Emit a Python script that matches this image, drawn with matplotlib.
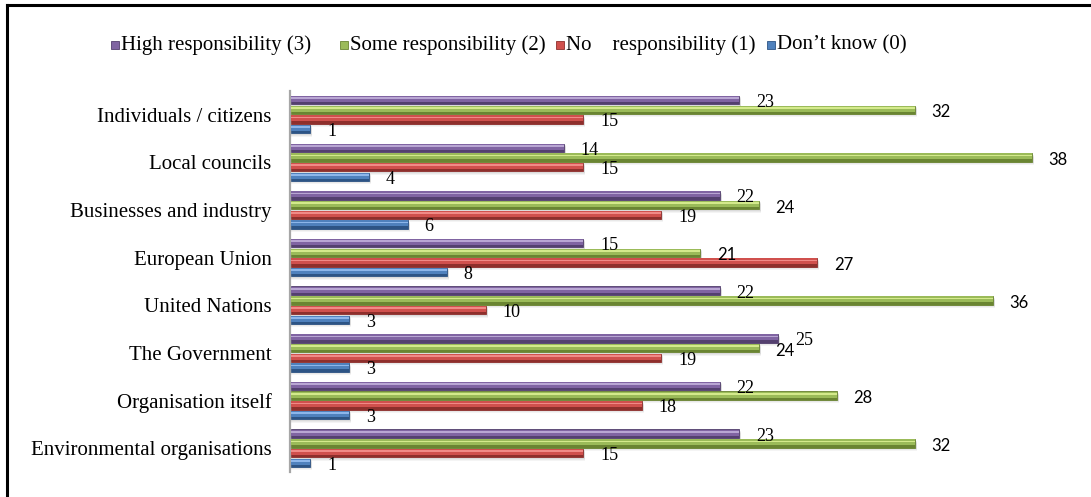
import matplotlib
matplotlib.use("Agg")
import matplotlib.pyplot as plt
from matplotlib.lines import Line2D
from matplotlib.patches import Rectangle

# Who is responsible for environmental action (number of respondents)
categories = ["Individuals / citizens", "Local councils", "Businesses and industry",
              "European Union", "United Nations", "The Government",
              "Organisation itself", "Environmental organisations"]
series_names = ["High responsibility (3)", "Some responsibility (2)",
                "No    responsibility (1)", "Don\u2019t know (0)"]
high = [23, 14, 22, 15, 22, 25, 22, 23]
some = [32, 38, 24, 21, 36, 24, 28, 32]
no_resp = [15, 15, 19, 27, 10, 19, 18, 15]
dont_know = [1, 4, 6, 8, 3, 3, 3, 1]

series_values = [high, some, no_resp, dont_know]
# (highlight, body, shade) colour per series
palette = [("#B9A6D3", "#8064A2", "#54406F"),
           ("#D4EA8C", "#9BBB59", "#6A8532"),
           ("#F08A87", "#D0504D", "#8E2F2C"),
           ("#8DB6EA", "#4F81BD", "#2D5485")]
# value labels set in a sans face (the rest use the serif face)
sans_series = [False, True, False, False]
sans_extra = [(2, "European Union")]

W, H = 1091, 497
fig = plt.figure(figsize=(W / 100, H / 100), dpi=100)
fig.patch.set_facecolor("white")

ax_left, ax_top, ax_bottom = 289.5, 90.7, 472.0
ax = fig.add_axes([ax_left / W, (H - ax_bottom) / H,
                   (W - ax_left) / W, (ax_bottom - ax_top) / H])
px_per_unit = 19.5
x0 = -(290.5 - ax_left) / px_per_unit
ax.set_xlim(x0, x0 + (W - ax_left) / px_per_unit)
ax.set_ylim(len(categories) - 0.5, -0.5)

pitch = 0.203
bar_h = 0.175
px_y = (ax_bottom - ax_top) / len(categories)  # pixels per category unit
serif = "Liberation Serif"

for s, vals in enumerate(series_values):
    light, body, shade = palette[s]
    offs = (s - 1.5) * pitch
    ys = [i + offs for i in range(len(categories))]
    # soft drop shadow
    for k, a in ((3.5, 0.08), (2.5, 0.10), (1.5, 0.12)):
        ax.barh([y + k / px_y for y in ys], [v + 0.12 for v in vals],
                height=bar_h, left=0, color="#7F7F7F", alpha=a, lw=0, zorder=1)
    # shaded body, main body and top highlight
    ax.barh(ys, vals, height=bar_h, color=shade, edgecolor=shade, lw=0.6, zorder=2)
    ax.barh([y - bar_h * 0.12 for y in ys], vals, height=bar_h * 0.70,
            color=body, lw=0, zorder=3)
    ax.barh([y - bar_h * 0.22 for y in ys], vals, height=bar_h * 0.22,
            color=light, lw=0, zorder=4)
    for i, (y, v) in enumerate(zip(ys, vals)):
        use_sans = sans_series[s] or (s, categories[i]) in sans_extra
        if use_sans:
            ax.text(v + 17 / px_per_unit, y + 2.5 / px_y, str(v), ha="left",
                    va="center", fontsize=12, family="Lato", color="black", zorder=5)
        else:
            ax.text(v + 17 / px_per_unit, y + 2.5 / px_y, str(v), ha="left",
                    va="center", fontsize=13, family=serif, color="black", zorder=5)

ax.set_yticks(range(len(categories)))
ax.set_yticklabels(categories, fontsize=15, family=serif)
ax.tick_params(axis="y", length=0, pad=13)
ax.set_xticks([])
for side in ("top", "right", "bottom"):
    ax.spines[side].set_visible(False)
ax.spines["left"].set_color("#A6A6A6")
ax.spines["left"].set_linewidth(1.6)
ax.set_facecolor("none")

# legend row
leg_y = 45
leg_text_x = [121, 350, 566, 777]
for s, name in enumerate(series_names):
    light, body, shade = palette[s]
    tx = leg_text_x[s]
    fig.add_artist(Rectangle(((tx - 10) / W, (H - leg_y - 4) / H), 8 / W, 8 / H,
                             transform=fig.transFigure, facecolor=body,
                             edgecolor=shade, lw=0.6))
    fig.text(tx / W, (H - leg_y) / H, name, ha="left", va="center",
             fontsize=15, family=serif, color="black")

# frame lines along the top and left of the chart
fig.add_artist(Line2D([7 / W, 1.0], [1 - 5 / H, 1 - 5 / H],
                      transform=fig.transFigure, color="black", lw=2.2))
fig.add_artist(Line2D([7 / W, 7 / W], [0.0, 1 - 5 / H],
                      transform=fig.transFigure, color="black", lw=2.2))

fig.savefig("out.png", dpi=100, facecolor="white")
